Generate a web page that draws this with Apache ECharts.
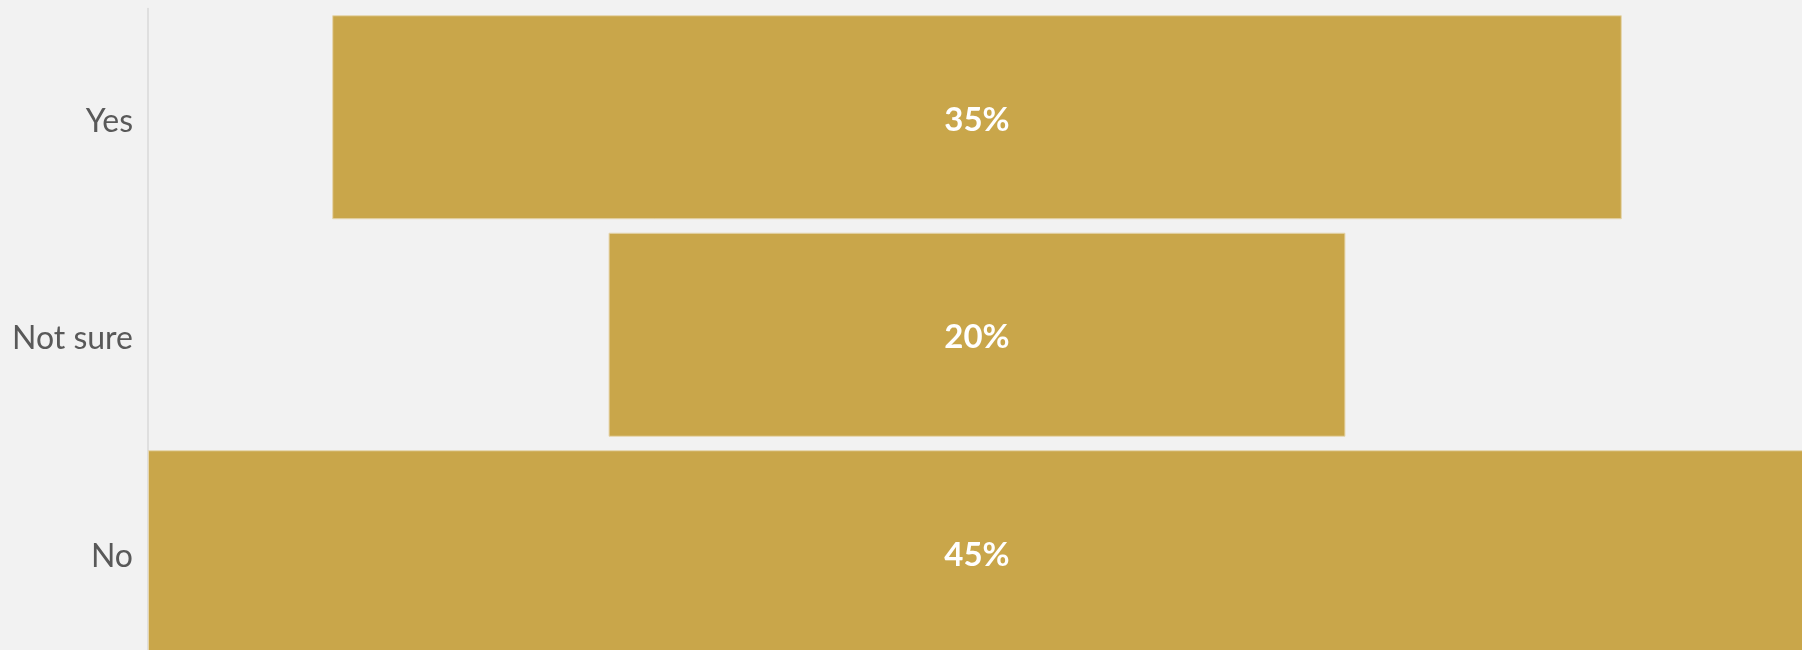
<!DOCTYPE html>
<html>
<head>
<meta charset="utf-8">
<script src="https://cdn.jsdelivr.net/npm/echarts@6/dist/echarts.min.js"></script>
<style>
  html, body { margin: 0; padding: 0; background: #F2F2F2; }
  #chart { width: 1802px; height: 650px; }
</style>
</head>
<body>
<div id="chart"></div>
<script>
const categories = ['Yes', 'Not sure', 'No'];
const shares = [35, 20, 45];

const maxShare = Math.max(...shares);
// transparent spacer so each bar sits centred like a funnel
const spacer = shares.map((v) => (maxShare - v) / 2);

const draw = () => {
  const chart = echarts.init(document.getElementById('chart'));

  const option = {
    backgroundColor: '#F2F2F2',
    animation: false,
    grid: {
      left: 148,
      top: 8.5,
      width: 1658,
      height: 652.5,
      outerBoundsMode: 'none',
      containLabel: false,
    },
    xAxis: {
      type: 'value',
      min: 0,
      max: maxShare,
      show: false,
    },
    yAxis: {
      type: 'category',
      data: categories,
      inverse: true,
      axisLine: { show: true, lineStyle: { color: '#D9D9D9', width: 1.5 } },
      axisTick: { show: false },
      axisLabel: {
        margin: 15,
        formatter: (v) => `{cat|${v}}`,
        rich: {
          cat: {
            color: '#595959',
            fontSize: 32,
            fontFamily: 'Lato',
            padding: [8, 0, 0, 0],
          },
        },
      },
    },
    series: [
      {
        name: 'spacer',
        type: 'bar',
        stack: 'funnel',
        data: spacer,
        itemStyle: { color: 'transparent' },
        barCategoryGap: '6.2%',
        silent: true,
      },
      {
        name: 'share',
        type: 'bar',
        stack: 'funnel',
        data: shares,
        barCategoryGap: '6.2%',
        itemStyle: {
          color: '#C9A64A',
          borderColor: '#E6D6AE',
          borderWidth: 1,
        },
        label: {
          show: true,
          position: 'inside',
          offset: [0, 3],
          formatter: '{c}%',
          color: '#FFFFFF',
          fontSize: 33,
          fontWeight: 'bold',
          fontFamily: 'Lato',
        },
      },
    ],
  };

  chart.setOption(option);
};

Promise.all([
  document.fonts.load('32px "Lato"'),
  document.fonts.load('bold 33px "Lato"'),
]).then(draw, draw);
</script>
</body>
</html>
